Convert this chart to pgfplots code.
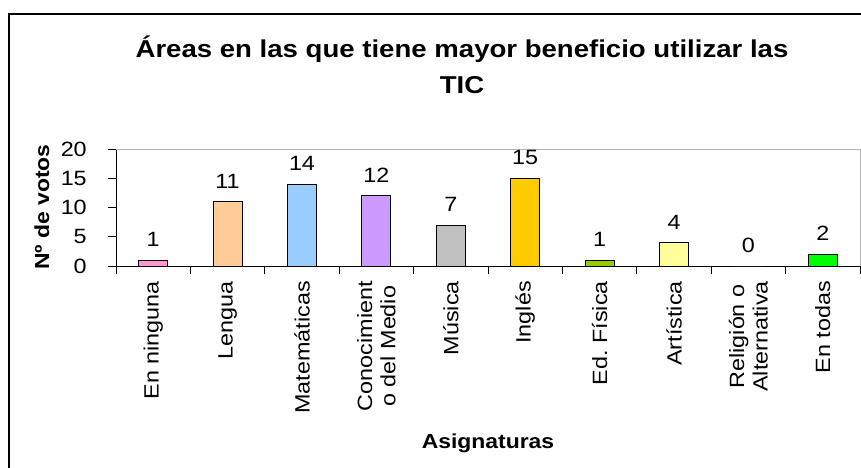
\documentclass[border=0pt]{standalone}
\usepackage{fontspec}
\setmainfont{Liberation Sans}[FakeStretch=1.13, BoldFeatures={FakeStretch=1.13}]
\usepackage{pgfplots}
\pgfplotsset{compat=1.18}

\definecolor{cRosa}{RGB}{255,153,204}
\definecolor{cMelo}{RGB}{255,204,153}
\definecolor{cCeles}{RGB}{153,204,255}
\definecolor{cLila}{RGB}{204,153,255}
\definecolor{cGris}{RGB}{192,192,192}
\definecolor{cOro}{RGB}{255,204,0}
\definecolor{cOliva}{RGB}{153,204,0}
\definecolor{cCrema}{RGB}{255,255,153}
\definecolor{cVerde}{RGB}{0,255,0}

\newcommand\tickfont{\fontsize{15.5}{17.5}\selectfont}
\newcommand\labfont{\bfseries\fontsize{15.2}{17.5}\selectfont}

\begin{document}
\begin{tikzpicture}
\useasboundingbox (0,0) rectangle (645.75pt,-351pt);
% marco del grafico (recortado a la derecha y abajo)
\draw[line width=1.2pt] (6.75pt,-352pt) -- (6.75pt,-10.5pt) -- (647pt,-10.5pt);

\node[font=\bfseries\fontsize{18.3}{21}\selectfont, anchor=base] at (346.5pt,-42.75pt)
  {Áreas en las que tiene mayor beneficio utilizar las};
\node[font=\bfseries\fontsize{18.3}{21}\selectfont, anchor=base] at (346.5pt,-69.75pt) {TIC};

\node[font=\labfont, rotate=90] at (31.5pt,-155.25pt) {Nº de votos};
\node[font=\labfont, anchor=base] at (366pt,-336pt) {Asignaturas};

\begin{axis}[
  at={(87pt,-199.5pt)}, anchor=south west,
  scale only axis, width=558pt, height=87.75pt,
  xmin=-0.5, xmax=9.5, ymin=0, ymax=20,
  axis lines*=left,
  axis line style={black, line width=0.75pt},
  tick align=outside, major tick length=6pt,
  tick style={black, line width=0.75pt},
  /pgf/number format/assume math mode=true,
  ytick={0,5,...,20},
  yticklabel style={font=\tickfont, anchor=east, inner sep=0pt},
  yticklabel shift=15.75pt,
  xtick={-0.5,0.5,...,9.5}, xticklabels={},
  extra x ticks={0,...,9},
  extra x tick labels={En ninguna, Lengua, Matemáticas, {Conocimient\\o del Medio}, Música,
    Inglés, {Ed.~Física}, Artística, {Religión o\\Alternativa}, En todas},
  extra x tick style={major tick length=0pt},
  xticklabel style={font=\tickfont, rotate=90, anchor=east, align=center, inner sep=0pt},
  xticklabel shift=11.25pt,
  nodes near coords,
  every node near coord/.append style={font=\tickfont, anchor=base, inner sep=0pt, yshift=10pt},
  clip=false,
]
\draw[gray!60, line width=0.75pt] (rel axis cs:0,1) -- (rel axis cs:1,1) -- (rel axis cs:1,0);

\addplot[ybar, bar width=21.75pt, bar shift=0pt, draw=black, line width=0.75pt, fill=cRosa] coordinates {(0,1)};
\addplot[ybar, bar width=21.75pt, bar shift=0pt, draw=black, line width=0.75pt, fill=cMelo] coordinates {(1,11)};
\addplot[ybar, bar width=21.75pt, bar shift=0pt, draw=black, line width=0.75pt, fill=cCeles] coordinates {(2,14)};
\addplot[ybar, bar width=21.75pt, bar shift=0pt, draw=black, line width=0.75pt, fill=cLila] coordinates {(3,12)};
\addplot[ybar, bar width=21.75pt, bar shift=0pt, draw=black, line width=0.75pt, fill=cGris] coordinates {(4,7)};
\addplot[ybar, bar width=21.75pt, bar shift=0pt, draw=black, line width=0.75pt, fill=cOro] coordinates {(5,15)};
\addplot[ybar, bar width=21.75pt, bar shift=0pt, draw=black, line width=0.75pt, fill=cOliva] coordinates {(6,1)};
\addplot[ybar, bar width=21.75pt, bar shift=0pt, draw=black, line width=0.75pt, fill=cCrema] coordinates {(7,4)};
\addplot[ybar, bar width=21.75pt, bar shift=0pt, draw=black, line width=0.75pt, fill=white] coordinates {(8,0)};
\addplot[ybar, bar width=21.75pt, bar shift=0pt, draw=black, line width=0.75pt, fill=cVerde] coordinates {(9,2)};
\end{axis}
\end{tikzpicture}
\end{document}
